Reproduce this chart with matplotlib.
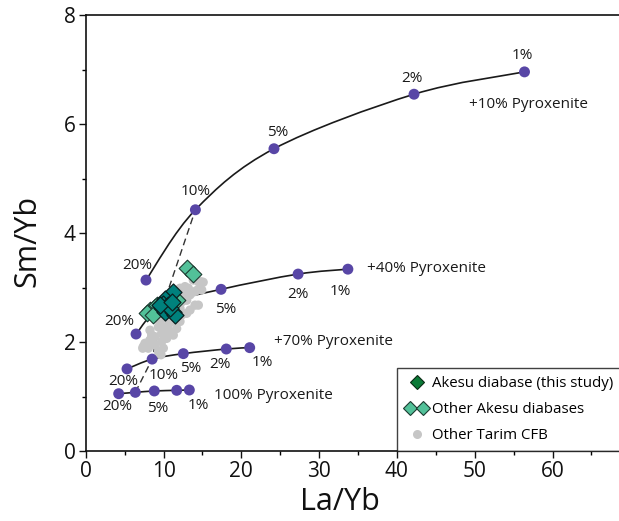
import matplotlib
matplotlib.use("Agg")
import matplotlib.pyplot as plt
import numpy as np
from matplotlib.lines import Line2D
from matplotlib.legend_handler import HandlerLine2D
from matplotlib.path import Path
from matplotlib.patches import PathPatch

plt.rcParams['font.family'] = ['Open Sans', 'DejaVu Sans']

# ---- model curves (La/Yb, Sm/Yb) ----
pct_labels = ["20%", "10%", "5%", "2%", "1%"]
p10_x = [7.75, 14.1, 24.2, 42.2, 56.4]
p10_y = [3.14, 4.43, 5.55, 6.55, 6.96]
p40_x = [6.47, 9.95, 17.4, 27.3, 33.7]
p40_y = [2.15, 2.68, 2.97, 3.25, 3.34]
p70_x = [5.31, 8.54, 12.55, 18.07, 21.08]
p70_y = [1.51, 1.69, 1.79, 1.875, 1.90]
p100_x = [4.24, 6.38, 8.82, 11.70, 13.32]
p100_y = [1.055, 1.08, 1.105, 1.117, 1.123]

curve_names = ["+10% Pyroxenite", "+40% Pyroxenite", "+70% Pyroxenite", "100% Pyroxenite"]
curve_name_pos = [(49.3, 6.37), (36.2, 3.36), (24.2, 2.01), (16.5, 1.03)]

# ---- samples ----
tarim_x = [13.83, 14.48, 14.91, 14.05, 13.19, 12.76, 12.55, 12.98, 12.34, 14.05,
           14.48, 13.41, 12.98, 12.34, 12.12, 11.05, 10.62, 9.98, 9.34, 9.76,
           8.91, 8.26, 7.62, 7.41, 8.05, 8.91, 9.76, 10.41, 11.26, 10.84,
           9.34, 9.98, 11.69, 12.12, 11.91, 10.41, 9.55, 8.26, 8.48, 12.12,
           13.41, 15.1, 14.4, 14.8, 9.68, 7.33]
tarim_y = [3.14, 3.11, 2.96, 2.93, 2.99, 3.02, 2.87, 2.77, 2.74, 2.68,
           2.68, 2.59, 2.53, 2.50, 2.38, 2.38, 2.32, 2.25, 2.28, 2.16,
           2.10, 2.04, 1.98, 1.92, 1.89, 1.95, 2.01, 2.07, 2.13, 2.19,
           1.83, 1.89, 2.25, 2.62, 2.47, 2.44, 2.38, 2.22, 2.13, 2.99,
           2.87, 3.10, 2.96, 3.11, 1.77, 1.89]

other_akesu_x = [13.06, 13.75, 8.26, 8.91, 7.84, 11.69, 9.12, 8.69]
other_akesu_y = [3.36, 3.26, 2.59, 2.65, 2.53, 2.77, 2.68, 2.50]

akesu_x = [11.26, 10.19, 9.98, 10.62, 9.76, 10.19, 11.26, 11.48, 10.84, 9.55, 11.05]
akesu_y = [2.93, 2.80, 2.71, 2.68, 2.62, 2.56, 2.56, 2.50, 2.62, 2.68, 2.74]

x_ticks = [0, 10, 20, 30, 40, 50, 60]
y_ticks = [0, 2, 4, 6, 8]

PURPLE = "#5846a6"
TEAL = "#00817d"
LIGHTGREEN = "#52c199"
DARKGREEN = "#0b7a37"
GRAY = "#c6c6c6"
TXT = "#1a1a1a"

XMAX, YMAX = 70, 8

fig = plt.figure(figsize=(6.19, 5.21), dpi=100)
ax = fig.add_axes([85.7 / 619, 69.8 / 521, 544.6 / 619, 436.0 / 521])
ax.set_xlim(0, XMAX)
ax.set_ylim(0, YMAX)


def smooth_path(xs, ys):
    """Catmull-Rom style cubic Bezier path through the given points."""
    p = np.column_stack([np.asarray(xs) / XMAX, np.asarray(ys) / YMAX])
    ext = np.vstack([p[0], p, p[-1]])
    verts = [p[0]]
    codes = [Path.MOVETO]
    for i in range(len(p) - 1):
        p0, p1, p2, p3 = ext[i], ext[i + 1], ext[i + 2], ext[i + 3]
        c1 = p1 + (p2 - p0) / 6.0
        c2 = p2 - (p3 - p1) / 6.0
        verts += [c1, c2, p2]
        codes += [Path.CURVE4] * 3
    verts = np.array(verts) * [XMAX, YMAX]
    return Path(verts, codes)


curves = [(p10_x, p10_y), (p40_x, p40_y), (p70_x, p70_y), (p100_x, p100_y)]
for cx, cy in curves:
    ax.add_patch(PathPatch(smooth_path(cx, cy), facecolor="none",
                           edgecolor="#1a1a1a", lw=1.2, zorder=2))

# dashed line joining the 10% points
ten_x = [c[0][1] for c in curves][::-1]
ten_y = [c[1][1] for c in curves][::-1]
ax.plot(ten_x, ten_y, color="#333333", lw=1.0, ls=(0, (5, 3)), zorder=2.5)

ax.scatter(tarim_x, tarim_y, s=45, color=GRAY, edgecolor="none", zorder=3)

for cx, cy in curves:
    ax.scatter(cx, cy, s=62, color=PURPLE, edgecolor="none", zorder=2.7)

ax.scatter(other_akesu_x, other_akesu_y, s=72, marker="D", color=LIGHTGREEN,
           edgecolor="#1c3a30", linewidth=0.8, zorder=4)
ax.scatter(akesu_x, akesu_y, s=75, marker="D", color=TEAL,
           edgecolor="#0a1f1f", linewidth=0.9, zorder=5)

# percentage labels (offsets in points)
offsets = [
    [(-6, 10.3), (0, 13), (3, 12), (-1.5, 11), (-1.5, 11.5)],
    [(-12, 9), None, (3.6, -14.4), (0, -15), (-5.5, -16.3)],
    [(-2.5, -9), (8, -11.5), (5, -11), (-4.5, -11), (9, -11)],
    [(-0.7, -9.4), None, (2.4, -12.3), None, (6.5, -11.3)],
]
for (cx, cy), offs in zip(curves, offsets):
    for xv, yv, lab, off in zip(cx, cy, pct_labels, offs):
        if off is None:
            continue
        ax.annotate(lab, (xv, yv), xytext=off, textcoords="offset points",
                    ha="center", va="center", fontsize=11, color=TXT, zorder=6)

for name, (tx, ty) in zip(curve_names, curve_name_pos):
    ax.text(tx, ty, name, fontsize=11, ha="left", va="center", color=TXT)

ax.set_xticks(x_ticks)
ax.set_yticks(y_ticks)
ax.set_xticks(range(5, 70, 10), minor=True)
ax.set_yticks([1, 3, 5, 7], minor=True)
ax.tick_params(axis="both", which="major", direction="out", length=5, width=1,
               labelsize=15, colors="#111111", pad=2)
ax.tick_params(axis="both", which="minor", direction="out", length=3, width=1)
for sp in ["left", "bottom", "top"]:
    ax.spines[sp].set_linewidth(1.2)
    ax.spines[sp].set_color("#111111")
ax.spines["right"].set_visible(False)

ax.set_xlabel("La/Yb", fontsize=22, color="#111111")
ax.set_ylabel("Sm/Yb", fontsize=22, color="#111111")
ax.xaxis.set_label_coords((340 - 85.7) / 544.6, -0.082)
ax.yaxis.set_label_coords(-0.080, 0.482)

h1 = Line2D([], [], ls="none", marker="D", ms=7.5, mfc=DARKGREEN, mec="#0a2a14", mew=0.8)
h2 = Line2D([], [], ls="none", marker="D", ms=7.5, mfc=LIGHTGREEN, mec="#1c3a30", mew=0.8)
h3 = Line2D([], [], ls="none", marker="o", ms=6.5, mfc=GRAY, mec="none")
labels = ["Akesu diabase (this study)", "Other Akesu diabases", "Other Tarim CFB"]
leg = ax.legend([h1, h2, h3], labels, loc="lower left",
                bbox_to_anchor=((397 - 85.7) / 544.6, 0.0), fontsize=10.8,
                frameon=True, fancybox=False, edgecolor="#111111",
                borderaxespad=0, handletextpad=0.3, labelspacing=0.72,
                handlelength=1.5, borderpad=0.55,
                handler_map={h2: HandlerLine2D(numpoints=2)})
leg.get_frame().set_linewidth(1.0)

fig.savefig("out.png", dpi=100)
